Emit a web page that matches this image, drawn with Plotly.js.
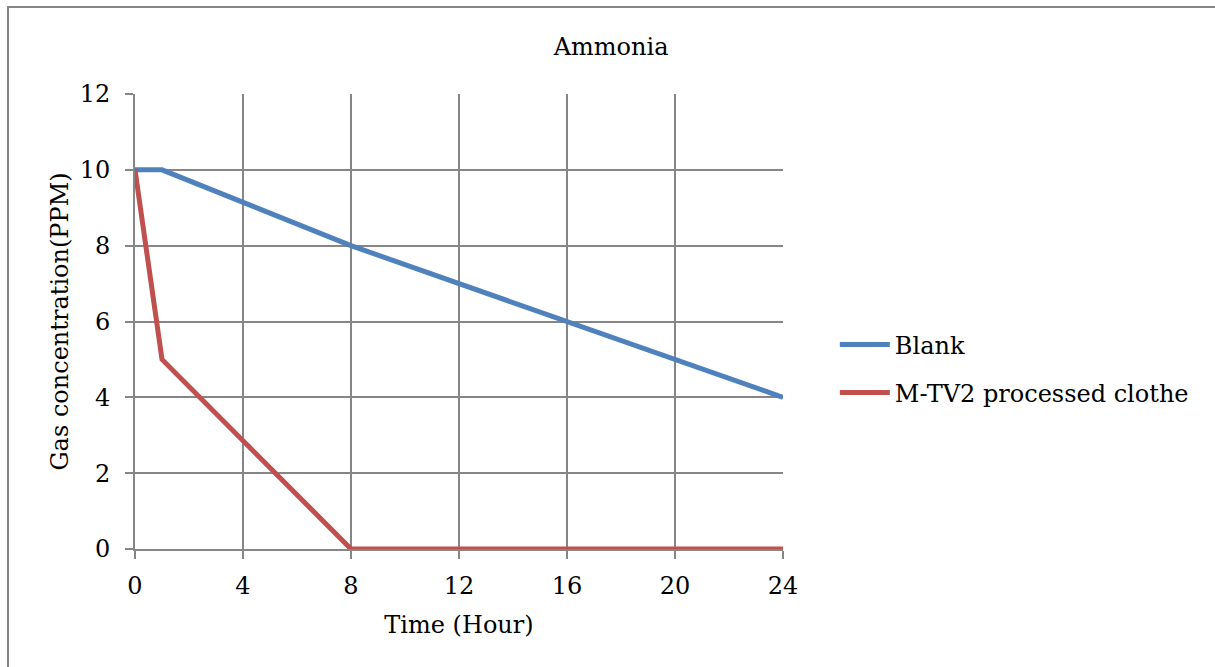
<!DOCTYPE html>
<html>
<head>
<meta charset="utf-8">
<script src="https://cdn.plot.ly/plotly-3.0.1.min.js"></script>
<style>html,body{margin:0;padding:0;background:#fff;}#chart{width:1215px;height:667px;}</style>
</head>
<body>
<div id="chart"></div>
<script>
const blankHours = [0, 1, 8, 24];
const blankPPM = [10, 10, 8, 4];
const treatedHours = [0, 1, 8, 24];
const treatedPPM = [10, 5, 0, 0];
const seriesNames = ["Blank", "M-TV2 processed clothe"];
const xTicks = [0, 4, 8, 12, 16, 20, 24];
const yTicks = [0, 2, 4, 6, 8, 10, 12];

const FONT = "DejaVu Serif, Liberation Serif, serif";
const FS = 24;
const GRID = "#868686";

const traces = [
  {x: blankHours, y: blankPPM, name: seriesNames[0], mode: "lines", legendgroup: "a",
   line: {color: "#4F81BD", width: 5}, cliponaxis: false},
  {x: treatedHours, y: treatedPPM, name: seriesNames[1], mode: "lines", legendgroup: "b",
   line: {color: "#C0504D", width: 5}, cliponaxis: false}
];

const layout = {
  width: 1215, height: 667,
  margin: {l: 135, r: 432, t: 94, b: 118},
  paper_bgcolor: "#fff", plot_bgcolor: "#fff",
  font: {family: FONT, size: FS, color: "#000"},
  title: {text: "Ammonia", x: 0.503, xref: "container", xanchor: "center", y: 0.93, yref: "container", yanchor: "middle",
          font: {family: FONT, size: FS, color: "#000"}},
  xaxis: {range: [0, 24], tickvals: xTicks, ticktext: xTicks.map(String),
          showgrid: true, gridcolor: GRID, gridwidth: 2,
          showline: true, linecolor: GRID, linewidth: 2,
          ticks: "outside", ticklen: 8, tickwidth: 2, tickcolor: GRID,
          ticklabelstandoff: 6,
          zeroline: false, fixedrange: true,
          tickfont: {family: FONT, size: FS, color: "#000"},
          title: {text: "Time (Hour)", standoff: 17, font: {family: FONT, size: FS}}},
  yaxis: {range: [0, 12], tickvals: yTicks, ticktext: yTicks.map(String),
          showgrid: true, gridcolor: GRID, gridwidth: 2,
          showline: true, linecolor: GRID, linewidth: 2,
          ticks: "outside", ticklen: 8, tickwidth: 2, tickcolor: GRID,
          ticklabelstandoff: 10,
          zeroline: false, fixedrange: true,
          tickfont: {family: FONT, size: FS, color: "#000"},
          title: {text: "Gas concentration(PPM)", standoff: 4, font: {family: FONT, size: FS}}},
  showlegend: true,
  legend: {x: 1.08, xanchor: "left", y: 0.396, yanchor: "middle",
           font: {family: FONT, size: FS, color: "#000"},
           traceorder: "grouped",
           bgcolor: "rgba(0,0,0,0)", tracegroupgap: 14, itemwidth: 50},
  shapes: [{type: "rect", xref: "paper", yref: "paper",
            x0: -127/648, x1: 2.2, y0: -0.5, y1: 1 + 87/455,
            line: {color: "#868686", width: 2}, fillcolor: "rgba(0,0,0,0)", layer: "below"}]
};

Plotly.newPlot("chart", traces, layout, {displayModeBar: false, staticPlot: true});
</script>
</body>
</html>
